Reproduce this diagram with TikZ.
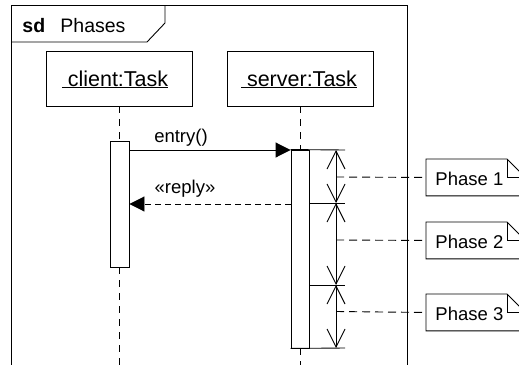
\documentclass[tikz,border=0pt]{standalone}
\usepackage{fontspec}
\setmainfont{Liberation Sans}
\usetikzlibrary{arrows.meta}
\begin{document}
\begin{tikzpicture}[x=1pt,y=-1pt, line width=0.9pt,
  txt/.style={font=\fontsize{18.5}{20}\selectfont, inner sep=0pt},
  hdr/.style={font=\fontsize{21.5}{23}\selectfont, inner sep=0pt},
  headbox/.style={draw, minimum width=146pt, minimum height=55pt, inner sep=0pt},
  actbox/.style={draw, fill=white, inner sep=0pt},
  notebox/.style={minimum width=99pt, minimum height=36pt, inner sep=0pt, anchor=north west},
  lifeline/.style={dash pattern=on 7pt off 6pt},
  msg/.style={-{Triangle[length=15pt,width=15pt]}},
  replymsg/.style={msg, dash pattern=on 6pt off 4pt},
  dimline/.style={{Straight Barb[length=18pt,width=18pt]}-{Straight Barb[length=18pt,width=18pt]}},
  guide/.style={dash pattern=on 8pt off 5pt}]
\useasboundingbox (0,0) rectangle (519,364);
\clip (0,0) rectangle (519,364);
% frame
\draw (11,5) rectangle (407,390);
\draw (11,42) -- (147,42) -- (165,23) -- (165,5);
\node[txt, anchor=base west, font=\fontsize{19.5}{20}\selectfont\bfseries] (sd) at (22,32) {sd};
\node[txt, anchor=base west, font=\fontsize{19.5}{20}\selectfont] (title) at (60,32) {Phases};
% lifeline heads
\node[headbox] (client) at (119.5,78.5) {};
\node[hdr, anchor=base] (clientlbl) at (115,86) {\underline{\ client:Task}};
\node[headbox] (server) at (300,78.5) {};
\node[hdr, anchor=base] (serverlbl) at (299,86) {\underline{\ server:Task}};
% activations
\node[actbox, minimum width=19pt, minimum height=126pt] (cact) at (119.5,204) {};
\node[actbox, minimum width=18pt, minimum height=198pt] (sact) at (300,249) {};
\coordinate (cend) at (119.5,390);
\coordinate (send) at (300,390);
\draw[lifeline] (client.south) -- (cact.north);
\draw[lifeline] (cact.south) -- (cend);
\draw[lifeline] (server.south) -- (sact.north);
\draw[lifeline] (sact.south) -- (send);
% messages
\draw[msg] (cact.east |- 0,150) -- (sact.west |- 0,150);
\node[txt, anchor=base] (entrylbl) at (181,142) {entry()};
\draw[replymsg] (sact.west |- 0,204) -- (cact.east |- 0,204);
\node[txt, anchor=base] (replylbl) at (185,193) {«reply»};
% phase boundaries
\coordinate (b0) at (336,150);
\coordinate (b1) at (336,203);
\coordinate (b2) at (336,285);
\coordinate (b3) at (336,348);
\draw (sact.north west) -- (345,150);
\draw (309,203) -- (345,203);
\draw (309,285) -- (345,285);
\draw (sact.south west) -- (345,348);
\draw[dimline] (b0) -- (b1);
\draw[dimline] (b1) -- (b2);
\draw[dimline] (b2) -- (b3);
% notes
\foreach \n/\t/\lbl in {n1/159/Phase 1, n2/222/Phase 2, n3/294/Phase 3}{
  \node[notebox] (\n) at (426,\t) {};
  \draw (\n.north west) -- ([xshift=81pt]\n.north west) -- ([xshift=99pt,yshift=-18pt]\n.north west) -- (\n.south east) -- (\n.south west) -- cycle;
  \draw ([xshift=81pt]\n.north west) -- ([xshift=81pt,yshift=-18pt]\n.north west) -- ([xshift=99pt,yshift=-18pt]\n.north west);
  \node[txt, anchor=base west] (\n lbl) at ([xshift=9pt,yshift=-8.5pt]\n.west) {\lbl};
}
\draw[guide] (336,177) -- (n1.west);
\draw[guide] (336,240) -- (n2.west);
\draw[guide] (336,311.5) -- (n3.west);
\end{tikzpicture}
\end{document}
